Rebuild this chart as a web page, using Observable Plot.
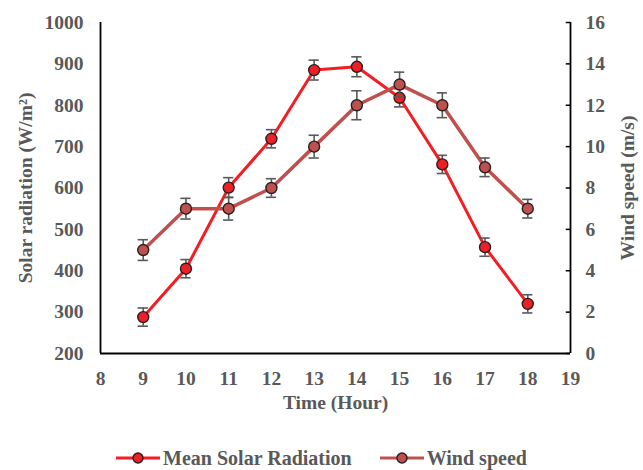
<!DOCTYPE html>
<html>
<head>
<meta charset="utf-8">
<script src="https://cdn.jsdelivr.net/npm/d3@7"></script>
<script src="https://cdn.jsdelivr.net/npm/@observablehq/plot@0.6"></script>
<style>
  html, body { margin: 0; padding: 0; background: #fff; overflow: hidden; }
  #chart svg { display: block; }
  .legend { display: flex; justify-content: center; align-items: center; height: 24px; line-height: 24px; margin-top: 6px;
    font-family: "Liberation Serif", "Times New Roman", serif; font-weight: bold; font-size: 20px; color: #595959; }
  .legend .item { display: flex; align-items: center; margin: 0 14px; }
  .legend svg { margin-right: 3px; }
</style>
</head>
<body>
<div id="chart"></div>
<div class="legend" id="legend"></div>
<script>
const hours = [9, 10, 11, 12, 13, 14, 15, 16, 17, 18];
const solar = [288, 405, 601, 719, 885, 893, 818, 657, 457, 320];
const solarErr = [22, 22, 24, 22, 24, 24, 22, 22, 22, 22];
const wind = [5, 7, 7, 8, 10, 12, 13, 12, 9, 7];
const windErr = [0.5, 0.5, 0.55, 0.45, 0.55, 0.7, 0.6, 0.6, 0.45, 0.45];
const leftTicks = [200, 300, 400, 500, 600, 700, 800, 900, 1000];
const rightTicks = [0, 2, 4, 6, 8, 10, 12, 14, 16];
const xTicks = [8, 9, 10, 11, 12, 13, 14, 15, 16, 17, 18, 19];

const solarName = "Mean Solar Radiation";
const windName = "Wind speed";
const solarLine = "#f51c22", solarFill = "#ee1f26";
const windLine = "#c0504d", windFill = "#c0504d";
const errColor = "#595959";
const textColor = "#595959";

// map wind (0..16 m/s) onto left scale (200..1000)
const w2y = w => 200 + w * 50;
const y2w = y => (y - 200) / 50;

const solarData = hours.map((h, i) => ({h, v: solar[i], lo: solar[i] - solarErr[i], hi: solar[i] + solarErr[i]}));
const windData = hours.map((h, i) => ({h, v: w2y(wind[i]), lo: w2y(wind[i] - windErr[i]), hi: w2y(wind[i] + windErr[i])}));

const capHalf = 0.12; // hours
const rightTickLen = 0.1; // hours

function errMarks(data) {
  return [
    Plot.ruleX(data, {x: "h", y1: "lo", y2: "hi", stroke: errColor, strokeWidth: 1.6}),
    Plot.ruleY(data, {y: "lo", x1: d => d.h - capHalf, x2: d => d.h + capHalf, stroke: errColor, strokeWidth: 1.6}),
    Plot.ruleY(data, {y: "hi", x1: d => d.h - capHalf, x2: d => d.h + capHalf, stroke: errColor, strokeWidth: 1.6})
  ];
}

const font = "'Liberation Serif', 'Times New Roman', serif";

const chart = Plot.plot({
  width: 643,
  height: 440,
  marginLeft: 100,
  marginRight: 73,
  marginTop: 22,
  marginBottom: 87,
  style: {fontFamily: font, fontSize: "19.5px", fontWeight: "bold", color: textColor, background: "#fff"},
  x: {domain: [8, 19]},
  y: {domain: [200, 1000]},
  marks: [
    Plot.axisY({anchor: "left", ticks: leftTicks, tickSize: 0, tickPadding: 17, label: null, fill: textColor,
      tickFormat: d => String(d)}),
    Plot.axisY({anchor: "right", ticks: leftTicks, tickSize: 0, tickPadding: 15, label: null, fill: textColor,
      tickFormat: d => String(y2w(d))}),
    Plot.axisX({anchor: "bottom", ticks: xTicks, tickSize: 0, tickPadding: 18, label: null, fill: textColor,
      tickFormat: d => String(d)}),
    Plot.ruleY(rightTicks.map(w2y), {x1: 19 - rightTickLen, x2: 19, stroke: "#000", strokeWidth: 1.5}),
    Plot.ruleX([8], {stroke: "#000", strokeWidth: 1.8}),
    Plot.ruleX([19], {stroke: "#000", strokeWidth: 1.8}),
    Plot.ruleY([200], {stroke: "#000", strokeWidth: 1.8}),
    // solar series
    Plot.line(solarData, {x: "h", y: "v", stroke: solarLine, strokeWidth: 3}),
    ...errMarks(solarData),
    Plot.dot(solarData, {x: "h", y: "v", r: 5.5, fill: solarFill, stroke: "#222", strokeWidth: 1.4}),
    // wind series
    Plot.line(windData, {x: "h", y: "v", stroke: windLine, strokeWidth: 3.5}),
    ...errMarks(windData),
    Plot.dot(windData, {x: "h", y: "v", r: 5.5, fill: windFill, stroke: "#222", strokeWidth: 1.4}),
    // titles
    Plot.text(["Solar radiation (W/m²)"], {frameAnchor: "left", dx: -75, rotate: -90, textAnchor: "middle", fill: textColor, fontSize: 19.5, fontWeight: "bold"}),
    Plot.text(["Wind speed (m/s)"], {frameAnchor: "right", dx: 57, rotate: -90, textAnchor: "middle", fill: textColor, fontSize: 19.5, fontWeight: "bold"}),
    Plot.text(["Time (Hour)"], {frameAnchor: "bottom", dy: 55, fill: textColor, fontSize: 19.5, fontWeight: "bold"})
  ]
});
document.getElementById("chart").appendChild(chart);

const legend = document.getElementById("legend");
[[solarName, solarLine, solarFill], [windName, windLine, windFill]].forEach(([name, line, fill]) => {
  const item = document.createElement("div");
  item.className = "item";
  item.innerHTML = `<svg width="44" height="14"><line x1="0" y1="7" x2="44" y2="7" stroke="${line}" stroke-width="3"/><circle cx="22" cy="7" r="5" fill="${fill}" stroke="#222" stroke-width="1.4"/></svg><span>${name}</span>`;
  legend.appendChild(item);
});
</script>
</body>
</html>
